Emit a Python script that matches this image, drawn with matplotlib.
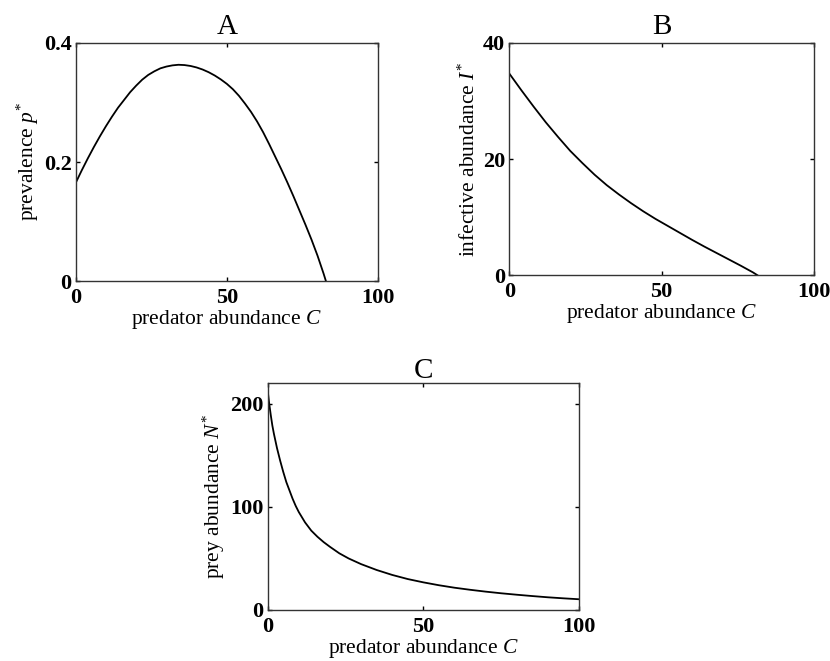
import numpy as np
import matplotlib
matplotlib.use("Agg")
import matplotlib.pyplot as plt

plt.rcParams['font.family'] = ['Liberation Serif', 'DejaVu Serif']
plt.rcParams['mathtext.fontset'] = 'custom'
plt.rcParams['mathtext.rm'] = 'Liberation Serif'
plt.rcParams['mathtext.it'] = 'Liberation Serif:italic'

# values
# A: prevalence p* vs predator abundance C
C_a = [0, 2, 4, 6, 8, 10, 12, 14, 16, 18, 20, 22, 24, 26, 28, 30, 32, 34, 36,
       38, 40, 42, 44, 46, 48, 50, 52, 54, 56, 58, 60, 62, 64, 66, 68, 70, 72,
       74, 76, 78, 80, 82, 82.8]
p_a = [0.165, 0.186, 0.206, 0.225, 0.243, 0.260, 0.276, 0.291, 0.304, 0.317,
       0.328, 0.338, 0.346, 0.352, 0.357, 0.360, 0.362, 0.363, 0.3625, 0.361,
       0.3585, 0.355, 0.3505, 0.345, 0.3385, 0.331, 0.322, 0.311, 0.298, 0.284,
       0.268, 0.250, 0.230, 0.209, 0.188, 0.166, 0.143, 0.119, 0.095, 0.070,
       0.043, 0.013, 0.0]

# B: infective abundance I* vs predator abundance C
C_b = [0, 4, 8, 12, 16, 20, 24, 28, 32, 36, 40, 44, 48, 52, 56, 60, 64, 68,
       72, 76, 80, 81.5]
I_b = [34.7, 31.8, 29.0, 26.3, 23.8, 21.4, 19.3, 17.3, 15.5, 13.9, 12.4, 11.0,
       9.7, 8.5, 7.3, 6.1, 4.95, 3.85, 2.75, 1.65, 0.5, 0.0]

# C: prey abundance N* vs predator abundance C
C_c = [0, 0.5, 1, 1.5, 2, 3, 4, 5, 6, 7, 8, 9, 10, 12, 14, 16, 18, 20, 23,
       26, 30, 35, 40, 45, 50, 55, 60, 65, 70, 75, 80, 85, 90, 95, 100]
N_c = [213, 200, 189, 179, 171, 157, 145, 134, 124, 116, 108, 101, 95, 85,
       77, 71, 65.8, 61.3, 55, 50, 44.5, 38.8, 34, 30, 26.8, 24, 21.6, 19.6,
       17.8, 16.2, 14.8, 13.5, 12.3, 11.3, 10.4]

tick_font = dict(fontsize=16, fontweight='bold')


def style_axes(ax, ylim, yticks, yticklabels):
    xticks = [0, 50, 100]
    ax.set_xlim(0, 100)
    ax.set_ylim(*ylim)
    ax.set_xticks(xticks)
    ax.set_yticks(yticks)
    ax.set_xticklabels([str(t) for t in xticks], **tick_font)
    ax.set_yticklabels(yticklabels, **tick_font)
    ax.tick_params(axis='x', direction='in', length=3, width=1, top=True, pad=5)
    ax.tick_params(axis='y', direction='in', length=3, width=1, right=True, pad=3)
    for s in ax.spines.values():
        s.set_linewidth(1.0)
        s.set_color('#333333')


fig = plt.figure(figsize=(8.3, 6.61), dpi=100)

axA = fig.add_axes([0.0912, 0.5744, 0.3642, 0.361])
axA.plot(C_a, p_a, color='black', lw=1.3)
style_axes(axA, (0, 0.4), [0, 0.2, 0.4], ['0', '0.2', '0.4'])
axA.set_title('A', fontsize=21, pad=6)
axA.set_xlabel(r'predator abundance $C$', fontsize=15.5, labelpad=0)
axA.set_ylabel(r'prevalence $p^{*}$', fontsize=15.5, labelpad=2)

axB = fig.add_axes([0.6136, 0.5835, 0.367, 0.3519])
axB.plot(C_b, I_b, color='black', lw=1.3)
style_axes(axB, (0, 40), [0, 20, 40], ['0', '20', '40'])
axB.set_title('B', fontsize=21, pad=6)
axB.set_xlabel(r'predator abundance $C$', fontsize=15.5, labelpad=0)
axB.set_ylabel(r'infective abundance $I^{*}$', fontsize=15.5, labelpad=2)

axC = fig.add_axes([0.3225, 0.0772, 0.3751, 0.343])
axC.plot(C_c, N_c, color='black', lw=1.3)
style_axes(axC, (0, 220), [0, 100, 200], ['0', '100', '200'])
axC.set_title('C', fontsize=21, pad=4)
axC.set_xlabel(r'predator abundance $C$', fontsize=15.5, labelpad=0)
axC.set_ylabel(r'prey abundance $N^{*}$', fontsize=15.5, labelpad=2)

fig.savefig('out.png', dpi=100)
